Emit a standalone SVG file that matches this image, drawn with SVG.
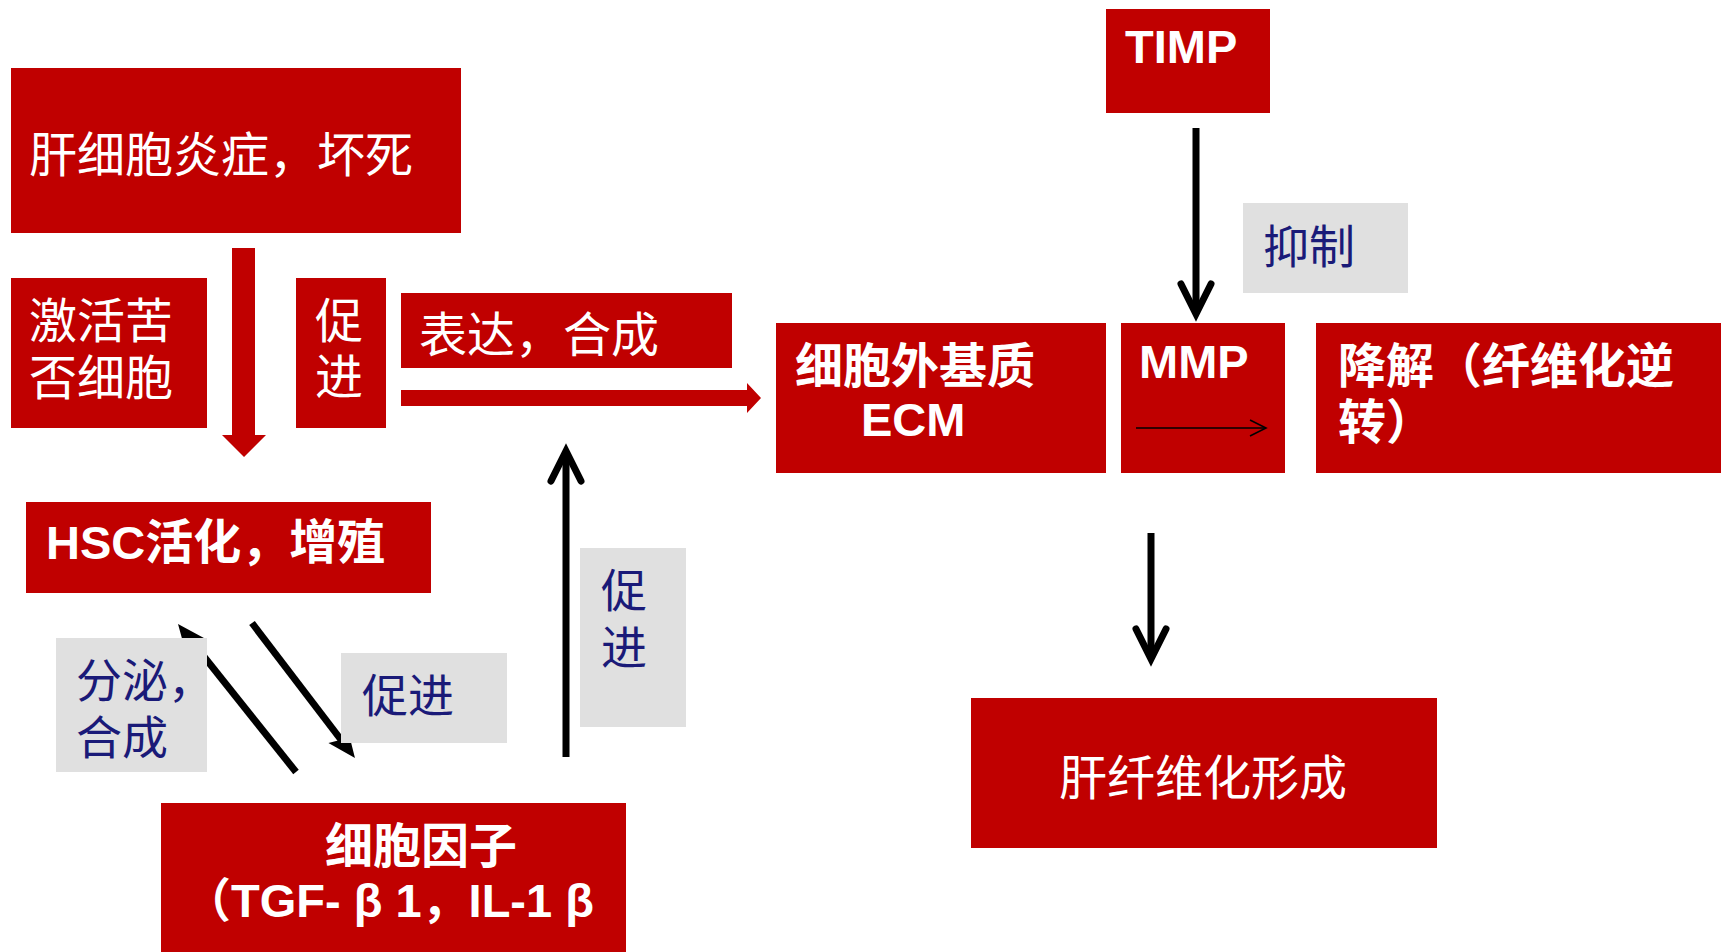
<svg xmlns="http://www.w3.org/2000/svg" width="1729" height="952" viewBox="0 0 1729 952">
<style>
.box{fill:#c00000}
.lbl{fill:#e0e0e0}
.wn{fill:#fff;font-family:"Liberation Serif","Noto Sans CJK SC",serif;font-size:48px}
.wb{fill:#fff;font-family:"Liberation Sans","Noto Sans CJK SC",sans-serif;font-size:47px;font-weight:bold}
.wc{font-size:48px}
.nv{fill:#1a1a78;font-family:"Liberation Serif","Noto Sans CJK SC",serif;font-size:46px}
.blk{fill:none;stroke:#000;stroke-width:7}
.red{fill:#c00000}
</style>
<defs>
<marker id="chev" markerUnits="userSpaceOnUse" viewBox="-45 -25 60 50" markerWidth="60" markerHeight="50" refX="0" refY="0" orient="auto" overflow="visible">
<path d="M-30,-15 L0,0 L-30,15" fill="none" stroke="#000" stroke-width="7" stroke-linecap="round"/>
</marker>
<marker id="tri" markerUnits="userSpaceOnUse" viewBox="-30 -20 50 40" markerWidth="50" markerHeight="40" refX="0" refY="0" orient="auto" overflow="visible">
<path d="M-16,-12 L12,0 L-16,12 L-11,0 Z" fill="#000"/>
</marker>
<marker id="thin" markerUnits="userSpaceOnUse" viewBox="-20 -10 25 20" markerWidth="25" markerHeight="20" refX="0" refY="0" orient="auto" overflow="visible">
<path d="M-16,-8 L0,0 L-16,8" fill="none" stroke="#000" stroke-width="1.6"/>
</marker>
</defs>
<rect width="1729" height="952" fill="#fff"/>

<g id="node-hepatocyte">
<rect class="box" x="11" y="68" width="450" height="165"/>
<text class="wn" x="29" y="172">肝细胞炎症，坏死</text>
</g>
<g id="node-kupffer">
<rect class="box" x="11" y="278" width="196" height="150"/>
<text class="wn" x="29" y="338">激活苦</text>
<text class="wn" x="29" y="395">否细胞</text>
</g>
<g id="node-promote1">
<rect class="box" x="296" y="278" width="90" height="150"/>
<text class="wn" x="315" y="338">促</text>
<text class="wn" x="315" y="394">进</text>
</g>
<g id="node-express">
<rect class="box" x="401" y="293" width="331" height="75"/>
<text class="wn" x="419" y="352">表达，合成</text>
</g>
<g id="node-ecm">
<rect class="box" x="776" y="323" width="330" height="150"/>
<text class="wb wc" x="795" y="383">细胞外基质</text>
<text class="wb" x="861" y="436">ECM</text>
</g>
<g id="node-mmp">
<rect class="box" x="1121" y="323" width="164" height="150"/>
<text class="wb" x="1139" y="378">MMP</text>
</g>
<g id="node-degrade">
<rect class="box" x="1316" y="323" width="405" height="150"/>
<text class="wb wc" x="1338" y="383">降解（纤维化逆</text>
<text class="wb wc" x="1338" y="439">转）</text>
</g>
<g id="node-timp">
<rect class="box" x="1106" y="9" width="164" height="104"/>
<text class="wb" x="1125" y="63">TIMP</text>
</g>
<g id="node-hsc">
<rect class="box" x="26" y="502" width="405" height="91"/>
<text class="wb" x="46" y="559">HSC<tspan class="wc">活化，增殖</tspan></text>
</g>
<g id="node-cytokine">
<rect class="box" x="161" y="803" width="465" height="149"/>
<text class="wb wc" x="325" y="863">细胞因子</text>
<text class="wb" x="184" y="917">（TGF- β 1，IL-1 β</text>
</g>
<g id="node-fibrosis">
<rect class="box" x="971" y="698" width="466" height="150"/>
<text class="wn" x="1059" y="795">肝纤维化形成</text>
</g>

<g id="connectors">
<polygon class="red" points="232,248 255,248 255,435 266,435 244,457 222,435 232,435"/>
<polygon class="red" points="401,390 747,390 747,383 761,398 747,413 747,406 401,406"/>
<line class="blk" x1="1196" y1="128" x2="1196" y2="314" marker-end="url(#chev)"/>
<line class="blk" x1="1151" y1="533" x2="1151" y2="659" marker-end="url(#chev)"/>
<line class="blk" x1="566" y1="757" x2="566" y2="451" marker-end="url(#chev)"/>
<line class="blk" x1="296" y1="772" x2="185.5" y2="633.4" marker-end="url(#tri)"/>
<line class="blk" x1="252" y1="623" x2="347.7" y2="748.5" marker-end="url(#tri)"/>
<line x1="1136" y1="428" x2="1266" y2="428" stroke="#000" stroke-width="1.6" marker-end="url(#thin)"/>
</g>

<g id="label-inhibit">
<rect class="lbl" x="1243" y="203" width="165" height="90"/>
<text class="nv" x="1263" y="263">抑制</text>
</g>
<g id="label-secrete">
<rect class="lbl" x="56" y="638" width="151" height="134"/>
<text class="nv" x="76" y="697">分泌，</text>
<text class="nv" x="76" y="754">合成</text>
</g>
<g id="label-promote2">
<rect class="lbl" x="341" y="653" width="166" height="90"/>
<text class="nv" x="362" y="712">促进</text>
</g>
<g id="label-promote3">
<rect class="lbl" x="580" y="548" width="106" height="179"/>
<text class="nv" x="601" y="607">促</text>
<text class="nv" x="601" y="664">进</text>
</g>
</svg>
